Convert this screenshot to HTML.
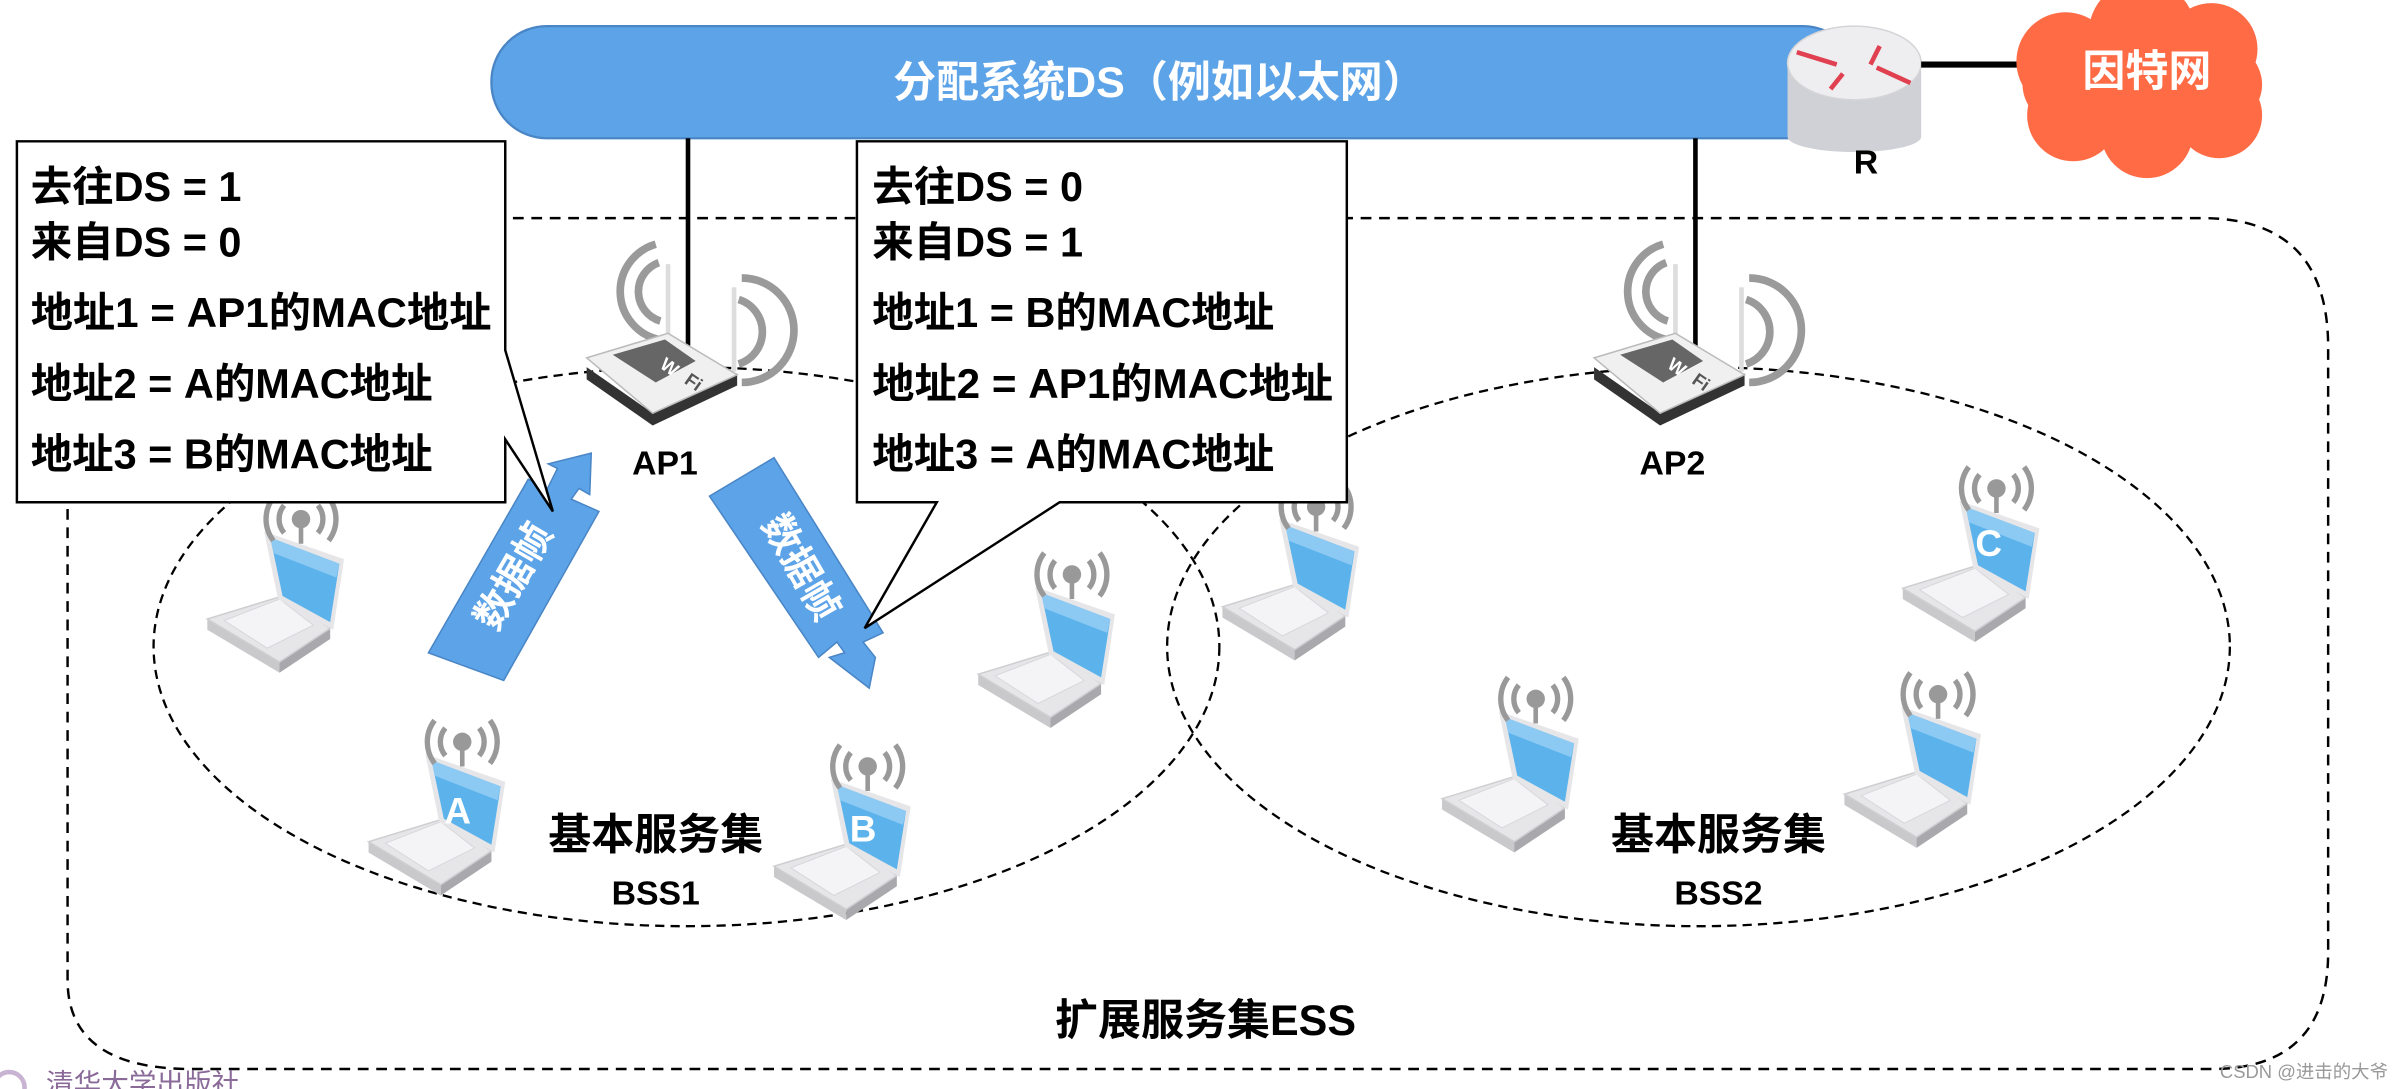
<!DOCTYPE html>
<html><head><meta charset="utf-8"><style>
html,body{margin:0;padding:0;background:#fff;}
svg{display:block;}
text{font-family:"Liberation Sans","Noto Sans CJK SC",sans-serif;font-weight:bold;}
</style></head><body>
<svg width="2408" height="1089" viewBox="0 0 1568 709" preserveAspectRatio="none" xmlns="http://www.w3.org/2000/svg">
<defs>
  <g id="ant">
    <line x1="0" y1="0" x2="0" y2="16" stroke="#999" stroke-width="3"/>
    <circle cx="0" cy="0" r="6" fill="#999"/>
    <path d="M-11,-9 A14,14 0 0 0 -11,9 M11,-9 A14,14 0 0 1 11,9" fill="none" stroke="#999" stroke-width="3.5"/>
    <path d="M-18,-14 A23,23 0 0 0 -18,14 M18,-14 A23,23 0 0 1 18,14" fill="none" stroke="#999" stroke-width="3.5"/>
  </g>
  <g id="lap">
    <polygon points="-61,65 -14,93 -14,100 -61,72" fill="#c9c9cc"/>
    <polygon points="-14,93 19,71 19,78 -14,100" fill="#a9a9ad"/>
    <polygon points="-61,65 -12,50 19,71 -14,93" fill="#e6e6e9" stroke="#cfcfd2" stroke-width="1"/>
    <polygon points="-50,66 -14,52 8,69 -22,84" fill="#f4f4f6" stroke="#d6d6da" stroke-width="0.6"/>
    <polygon points="-24,8 28,26 21,72 -15,52" fill="#e6e6e9"/>
    <polygon points="-20,12 25,29 19,67 -12,50" fill="#5cb3ec"/>
    <polygon points="-20,12 25,29 23,38 -18,22" fill="#8ccaf3"/>
    <use href="#ant" x="0" y="0"/>
  </g>
  <g id="ap">
    <path d="M-8,-58 A32,32 0 0 0 -6,4 M-6,-46 A20,20 0 0 0 -5,-8" fill="none" stroke="#9a9a9a" stroke-width="5"/>
    <path d="M48,-36 A34,34 0 0 1 48,32 M46,-22 A22,22 0 0 1 46,20" fill="none" stroke="#9a9a9a" stroke-width="5"/>
    <line x1="0" y1="-45" x2="0" y2="5" stroke="#ddd" stroke-width="3"/>
    <line x1="43" y1="-30" x2="43" y2="25" stroke="#ddd" stroke-width="3"/>
    <polygon points="-53,22 -53,30 -10,60 45,34 45,26 -10,52" fill="#333"/>
    <polygon points="-53,16 0,0 45,27 -10,52" fill="#f0f0f0" stroke="#bbb" stroke-width="1"/>
    <polygon points="-36,14 -2,4 18,18 -8,32" fill="#666"/>
    <text x="-6" y="22" font-size="12" fill="#fff" transform="rotate(35 -6 22)">W</text>
    <text x="10" y="32" font-size="12" fill="#555" transform="rotate(35 10 32)">Fi</text>
  </g>
</defs>

<!-- ESS -->
<path d="M130,142 L1434,142 Q1516,142 1516,226 L1516,620 Q1516,696 1440,696 L125,696 Q44,696 44,638 L44,142" fill="none" stroke="#000" stroke-width="1.6" stroke-dasharray="7,5"/>
<!-- BSS ellipses -->
<ellipse cx="447" cy="421" rx="347" ry="182" fill="none" stroke="#000" stroke-width="1.5" stroke-dasharray="6,4"/>
<ellipse cx="1106" cy="421" rx="346" ry="182" fill="none" stroke="#000" stroke-width="1.5" stroke-dasharray="6,4"/>

<!-- DS bar -->
<rect x="320" y="17" width="890" height="73" rx="36" fill="#5ca3e8" stroke="#4a86c6" stroke-width="1.5"/>
<text x="755" y="63" font-size="28" fill="#fff" text-anchor="middle">分配系统DS（例如以太网）</text>
<line x1="448" y1="90" x2="448" y2="225" stroke="#000" stroke-width="3"/>
<line x1="1104" y1="90" x2="1104" y2="225" stroke="#000" stroke-width="3"/>

<!-- router -->
<rect x="1164" y="41" width="87" height="48" fill="#cfd1d6"/>
<ellipse cx="1207.5" cy="89" rx="43.5" ry="10" fill="#cfd1d6"/>
<ellipse cx="1207.5" cy="41" rx="43.5" ry="24" fill="#eeeef0" stroke="#d5d5d8"/>
<g stroke="#e04050" stroke-width="3" fill="#e04050">
<line x1="1170" y1="34" x2="1196" y2="42"/><line x1="1222" y1="44" x2="1244" y2="54"/>
<line x1="1218" y1="42" x2="1224" y2="30"/><line x1="1200" y1="48" x2="1192" y2="58"/>
</g>
<text x="1215" y="113" font-size="22" fill="#000" text-anchor="middle">R</text>
<line x1="1251" y1="42" x2="1314" y2="42" stroke="#000" stroke-width="4"/>
<!-- cloud -->
<g fill="#ff6b45">
<ellipse cx="1395" cy="55" rx="78" ry="44"/>
<circle cx="1345" cy="40" r="32"/><circle cx="1395" cy="22" r="35"/><circle cx="1440" cy="32" r="30"/>
<circle cx="1350" cy="75" r="30"/><circle cx="1398" cy="86" r="30"/><circle cx="1445" cy="75" r="28"/>
</g>
<text x="1398" y="56" font-size="28" fill="#fff" text-anchor="middle">因特网</text>

<!-- laptops -->
<use href="#lap" x="196" y="338"/>
<use href="#lap" x="301" y="483"/>
<use href="#lap" x="565" y="499"/>
<use href="#lap" x="698" y="374"/>
<use href="#lap" x="857" y="330"/>
<use href="#lap" x="1300" y="318"/>
<use href="#lap" x="1000" y="455"/>
<use href="#lap" x="1262" y="452"/>
<text x="298" y="536" font-size="24" fill="#fff" text-anchor="middle">A</text>
<text x="562" y="548" font-size="24" fill="#fff" text-anchor="middle">B</text>
<text x="1295" y="362" font-size="24" fill="#fff" text-anchor="middle">C</text>

<!-- APs -->
<use href="#ap" x="435" y="217"/>
<use href="#ap" x="1091" y="217"/>
<text x="433" y="309" font-size="22" text-anchor="middle">AP1</text>
<text x="1089" y="309" font-size="22" text-anchor="middle">AP2</text>

<!-- arrows -->
<polygon points="279,425 344,312 356,319 363,305 357,302 385,295 384,322 377,318 372,325 390,333 328,443" fill="#5ca3e8" stroke="#4a86c6"/>
<text x="334" y="384" font-size="25" fill="#fff" text-anchor="middle" transform="rotate(-60 334 375)">数据帧</text>
<polygon points="462,323 504,298 575,412 562,418 570,428 566,448 540,428 550,425 545,418 533,428" fill="#5ca3e8" stroke="#4a86c6"/>
<text x="522" y="378" font-size="25" fill="#fff" text-anchor="middle" transform="rotate(60 522 369)">数据帧</text>

<!-- callouts -->
<polygon points="11,92 329,92 329,228 360,333 329,286 329,327 11,327" fill="#fff" stroke="#000" stroke-width="1.6"/>
<g font-size="27" fill="#000">
<text x="20" y="131">去往DS = 1</text>
<text x="20" y="167">来自DS = 0</text>
<text x="20" y="213" textLength="300" lengthAdjust="spacingAndGlyphs">地址1 = AP1的MAC地址</text>
<text x="20" y="259">地址2 = A的MAC地址</text>
<text x="20" y="305">地址3 = B的MAC地址</text>
</g>
<polygon points="558,92 877,92 877,327 690,327 563,409 610,327 558,327" fill="#fff" stroke="#000" stroke-width="1.6"/>
<g font-size="27" fill="#000">
<text x="568" y="131">去往DS = 0</text>
<text x="568" y="167">来自DS = 1</text>
<text x="568" y="213">地址1 = B的MAC地址</text>
<text x="568" y="259" textLength="300" lengthAdjust="spacingAndGlyphs">地址2 = AP1的MAC地址</text>
<text x="568" y="305">地址3 = A的MAC地址</text>
</g>

<!-- labels -->
<text x="427" y="553" font-size="28" text-anchor="middle">基本服务集</text>
<text x="427" y="589" font-size="22" text-anchor="middle">BSS1</text>
<text x="1119" y="553" font-size="28" text-anchor="middle">基本服务集</text>
<text x="1119" y="589" font-size="22" text-anchor="middle">BSS2</text>
<text x="785" y="674" font-size="28" text-anchor="middle">扩展服务集ESS</text>

<circle cx="6" cy="708" r="10" fill="none" stroke="#c8b4d2" stroke-width="3"/>
<text x="30" y="712" font-size="18" fill="#8a6a98" style="font-weight:normal">清华大学出版社</text>
<text x="1555" y="702" font-size="12" fill="#999" text-anchor="end" style="font-weight:normal">CSDN @进击的大爷</text>
</svg>
</body></html>
